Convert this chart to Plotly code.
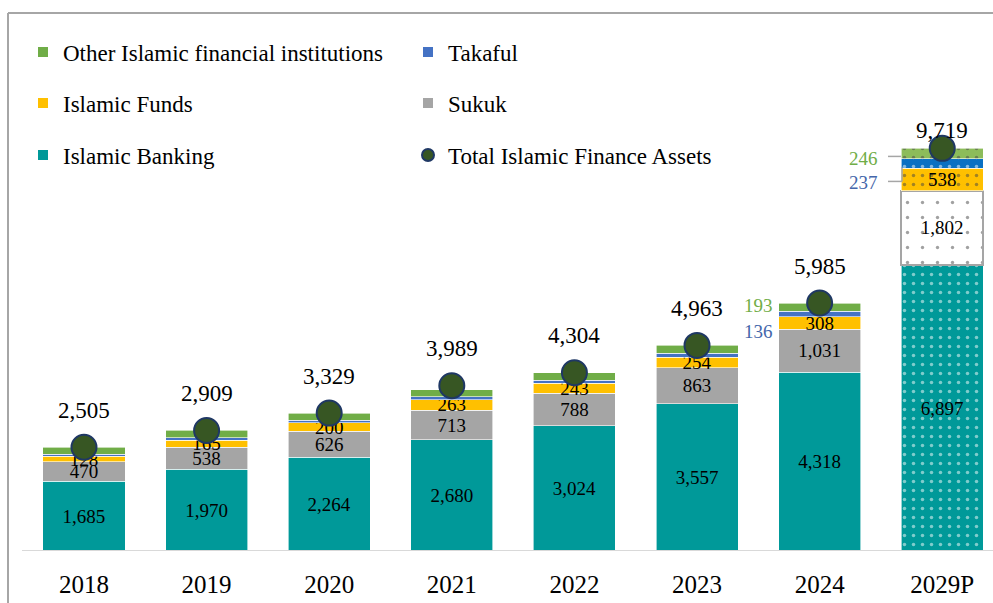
import plotly.graph_objects as go

# ---------------- data ----------------
years = ["2018", "2019", "2020", "2021", "2022", "2023", "2024", "2029P"]
islamic_banking = [1685, 1970, 2264, 2680, 3024, 3557, 4318, 6897]
sukuk = [470, 538, 626, 713, 788, 863, 1031, 1802]
islamic_funds = [128, 165, 200, 263, 243, 254, 308, 538]
takaful = [50, 56, 72, 72, 64, 104, 136, 237]
other_ifi = [172, 180, 167, 162, 185, 185, 193, 246]
total_assets = [2505, 2909, 3329, 3989, 4304, 4963, 5985, 9719]

# ---------------- style ----------------
FONT = "Liberation Serif"
C_BANK = "#009999"
C_SUKUK = "#A5A5A5"
C_FUNDS = "#FFC000"
C_TAK = "#4472C4"
C_OTHER = "#70AD47"
C_TAK_P = "#0A70C2"
C_OTHER_P = "#8CBC5A"

n = len(years)
proj = [y.endswith("P") for y in years]

W, H = 993, 603
X_RANGE = [-0.685, 7.414]
Y_MAX = 13300
PLOT_H = 551  # px height of plot area


def px_to_y(dpx):
    return dpx * Y_MAX / PLOT_H


def px_to_x(px):
    return X_RANGE[0] + px * (X_RANGE[1] - X_RANGE[0]) / W


def pattern(fg):
    return dict(
        shape=["." if p else "" for p in proj],
        fgcolor=[fg] * n,
        size=9,
        solidity=0.12,
        fillmode="overlay",
    )


fig = go.Figure()

label_font = dict(family=FONT, size=19, color="black")

fig.add_trace(go.Bar(
    x=years, y=islamic_banking, name="Islamic Banking",
    marker=dict(color=[C_BANK] * n, line=dict(color="white", width=0.6),
                pattern=pattern("white")),
    texttemplate="%{y:,.0f}", textposition="inside", insidetextanchor="middle",
    textangle=0, insidetextfont=label_font,
    legend="legend3", legendrank=1,
))

fig.add_trace(go.Bar(
    x=years, y=sukuk, name="Sukuk",
    marker=dict(color=["white" if p else C_SUKUK for p in proj],
                line=dict(color=[C_SUKUK if p else "white" for p in proj],
                          width=[2 if p else 0.6 for p in proj]),
                pattern=dict(shape=["." if p else "" for p in proj],
                             fgcolor=[C_SUKUK] * n, size=15, solidity=0.04,
                             fillmode="overlay")),
    texttemplate="%{y:,.0f}", textposition="inside", insidetextanchor="middle",
    textangle=0, insidetextfont=label_font,
    legend="legend2", legendrank=2,
))

fig.add_trace(go.Bar(
    x=years, y=islamic_funds, name="Islamic Funds",
    marker=dict(color=[C_FUNDS] * n, line=dict(color="white", width=0.6),
                pattern=pattern("white")),
    texttemplate="%{y:,.0f}", textposition="inside", insidetextanchor="middle",
    textangle=0, insidetextfont=label_font,
    legend="legend2", legendrank=1,
))

fig.add_trace(go.Bar(
    x=years, y=takaful, name="Takaful",
    marker=dict(color=[C_TAK_P if p else C_TAK for p in proj],
                line=dict(color="white", width=0.6),
                pattern=pattern("white")),
    legend="legend", legendrank=2,
))

fig.add_trace(go.Bar(
    x=years, y=other_ifi, name="Other Islamic financial institutions",
    marker=dict(color=[C_OTHER_P if p else C_OTHER for p in proj],
                line=dict(color="white", width=0.6),
                pattern=pattern("white")),
    legend="legend", legendrank=1,
))

fig.add_trace(go.Scatter(
    x=years, y=total_assets, name="Total Islamic Finance Assets", mode="markers",
    marker=dict(size=25, color="#375623", line=dict(color="#1F3864", width=2)),
    legend="legend3", legendrank=2,
))

# total labels above markers (x given as category index)
total_yshift = [37, 37, 37, 37, 37, 37, 37, 18]
for i, tv in enumerate(total_assets):
    fig.add_annotation(x=i, y=tv, xref="x", yref="y", text=f"{tv:,}", showarrow=False,
                       yshift=total_yshift[i], font=dict(family=FONT, size=23, color="black"))

# side labels for Takaful / Other (2024 and 2029P)
side_idx = [6, 7]
side_xshift = {6: -45, 7: -62}
side_yshift_other = {6: 2, 7: -5}
side_yshift_tak = {6: -18, 7: -19}
for i in side_idx:
    base_t = islamic_banking[i] + sukuk[i] + islamic_funds[i]
    yc_t = base_t + takaful[i] / 2
    yc_o = base_t + takaful[i] + other_ifi[i] / 2
    fig.add_annotation(x=i, y=yc_o, xref="x", yref="y", text=f"{other_ifi[i]:,}",
                       showarrow=False, xanchor="right", xshift=side_xshift[i],
                       yshift=side_yshift_other[i],
                       font=dict(family=FONT, size=19, color=C_OTHER))
    fig.add_annotation(x=i, y=yc_t, xref="x", yref="y", text=f"{takaful[i]:,}",
                       showarrow=False, xanchor="right", xshift=side_xshift[i],
                       yshift=side_yshift_tak[i],
                       font=dict(family=FONT, size=19, color="#4466AA"))

# leader lines for 2029P labels
ip = 7
base_t = islamic_banking[ip] + sukuk[ip] + islamic_funds[ip]
yc_t = base_t + takaful[ip] / 2
yc_o = base_t + takaful[ip] + other_ifi[ip] / 2
x_l0 = px_to_x(888)
x_l1 = px_to_x(902)
lc = dict(color="#A6A6A6", width=1.5)
fig.add_shape(type="line", xref="x", yref="y", x0=x_l0, x1=px_to_x(901),
              y0=yc_o - px_to_y(3), y1=yc_o - px_to_y(3), line=lc)
y_t_lbl = yc_t - px_to_y(18)
fig.add_shape(type="line", xref="x", yref="y", x0=x_l0, x1=x_l1,
              y0=y_t_lbl, y1=y_t_lbl, line=lc)
fig.add_shape(type="line", xref="x", yref="y", x0=x_l1, x1=x_l1,
              y0=y_t_lbl, y1=base_t + px_to_y(1), line=lc)

# axis baseline
fig.add_shape(type="line", xref="paper", yref="y", x0=22 / W, x1=1, y0=0, y1=0,
              line=dict(color="#D9D9D9", width=2))
# chart border (top + left)
border = dict(color="#A6A6A6", width=2)
fig.add_shape(type="line", xref="paper", yref="paper", x0=8 / W, x1=1,
              y0=(PLOT_H - 13) / PLOT_H, y1=(PLOT_H - 13) / PLOT_H, line=border)
fig.add_shape(type="line", xref="paper", yref="paper", x0=8 / W, x1=8 / W,
              y0=(PLOT_H - 13) / PLOT_H, y1=(PLOT_H - H) / PLOT_H, line=border)

legend_common = dict(orientation="h", xanchor="left", yanchor="middle",
                     font=dict(family=FONT, size=23, color="black"),
                     entrywidth=340, entrywidthmode="pixels",
                     bgcolor="rgba(0,0,0,0)", itemsizing="constant",
                     traceorder="normal", x=23 / W)

fig.update_layout(
    width=W, height=H,
    margin=dict(l=0, r=0, t=0, b=H - PLOT_H),
    paper_bgcolor="white", plot_bgcolor="white",
    barmode="stack", bargap=0.331,
    font=dict(family=FONT, color="black"),
    uniformtext=dict(minsize=19, mode="show"),
    xaxis=dict(type="category", range=X_RANGE, showline=False, showgrid=False,
               ticks="outside", ticklen=11, tickcolor="rgba(0,0,0,0)",
               tickfont=dict(family=FONT, size=25, color="black")),
    yaxis=dict(range=[0, Y_MAX], visible=False, showgrid=False),
    legend=dict(legend_common, y=(PLOT_H - 52) / PLOT_H),
    legend2=dict(legend_common, y=(PLOT_H - 103) / PLOT_H),
    legend3=dict(legend_common, y=(PLOT_H - 155) / PLOT_H),
    showlegend=True,
)

fig.write_html("out.html", config={"displayModeBar": False},
               post_script="document.body.style.margin='0';")
